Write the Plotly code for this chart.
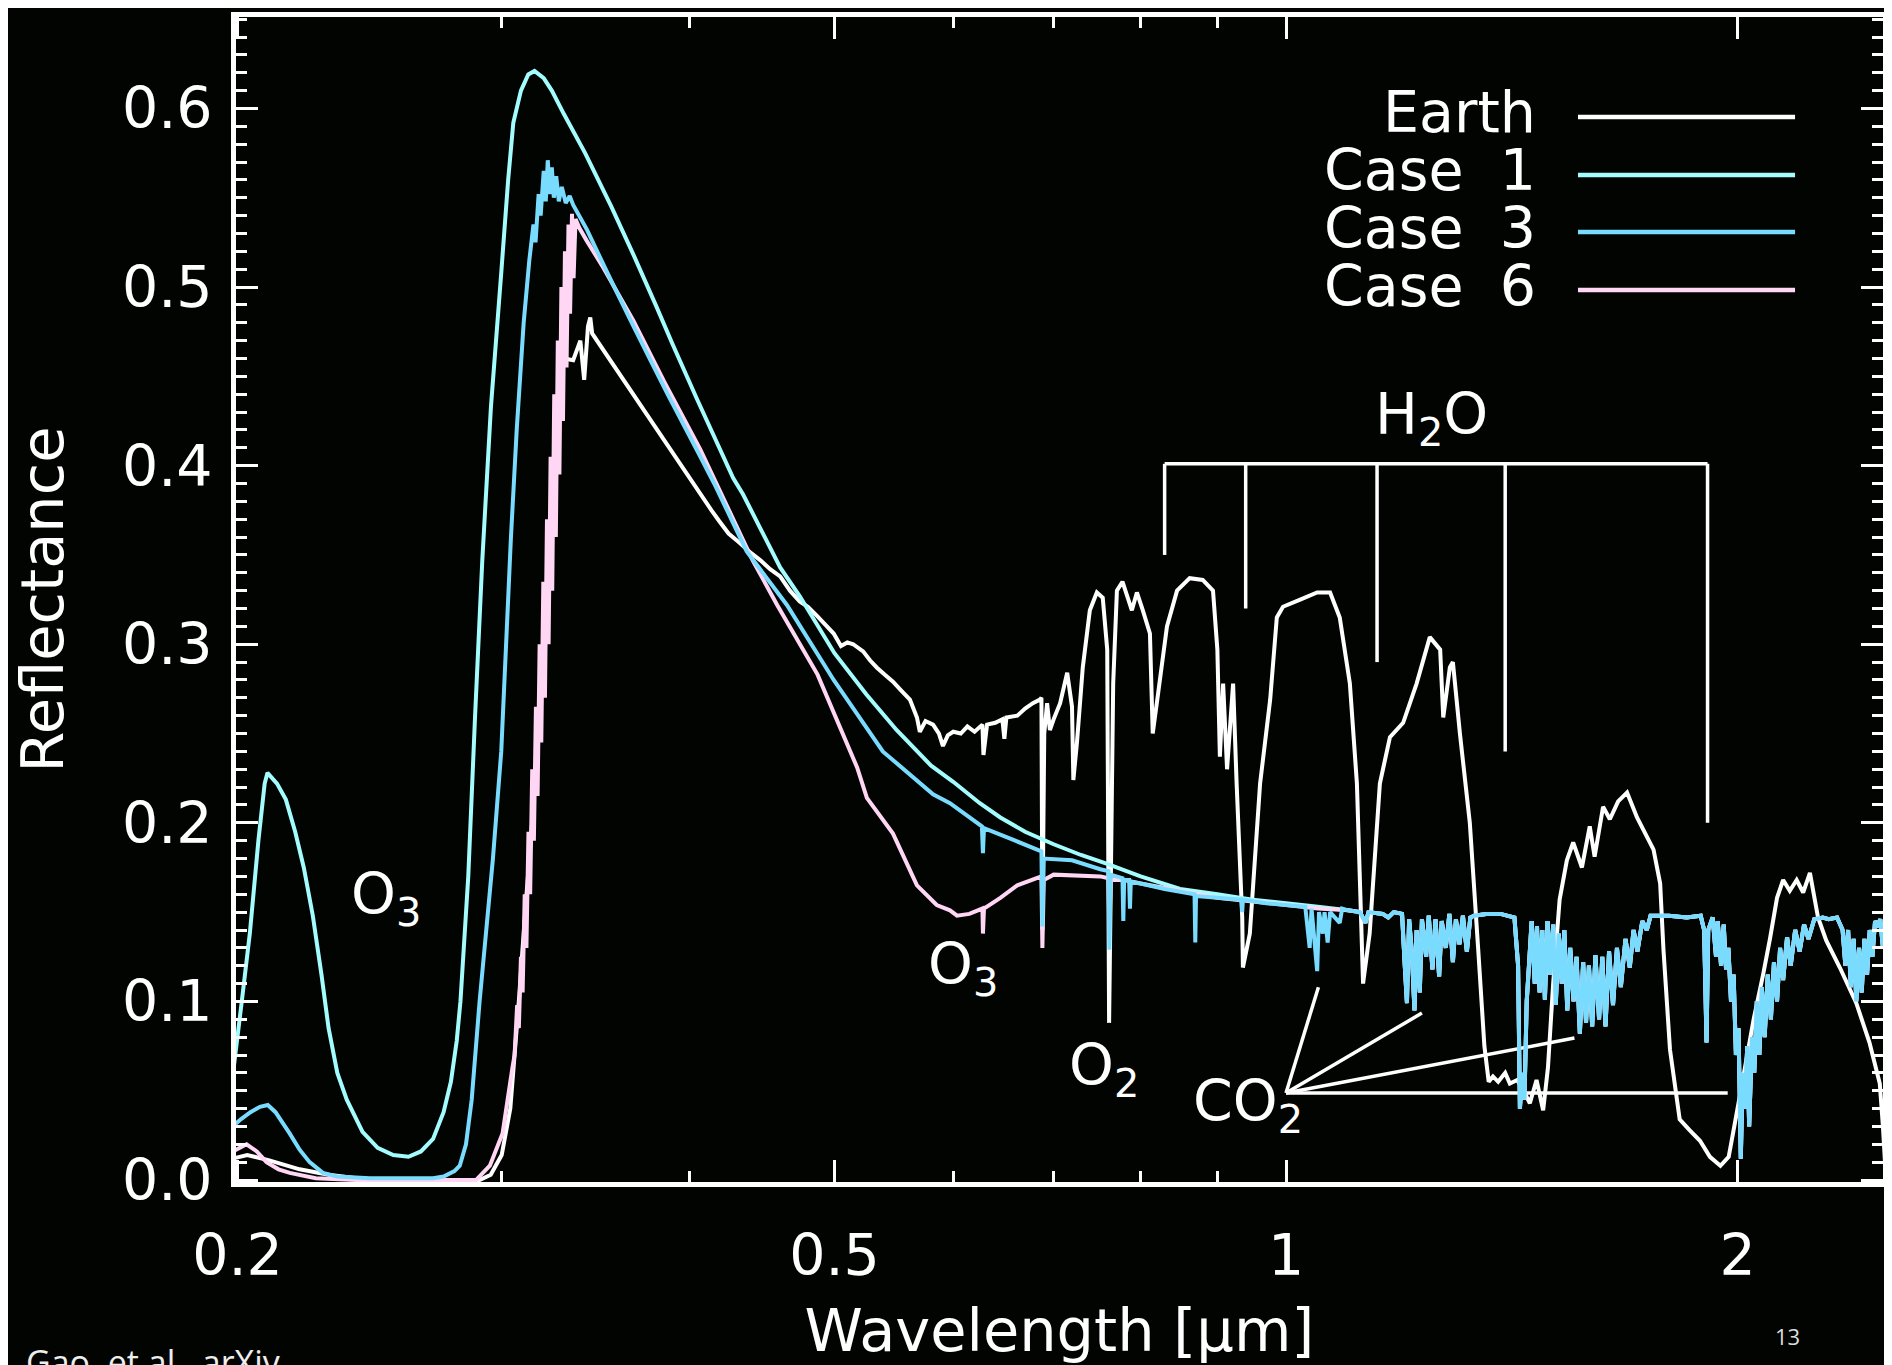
import math
import plotly.graph_objects as go

# ---------------- data ----------------
EARTH_WL = [0.1985, 0.2030, 0.2100, 0.2200, 0.2300, 0.2400, 0.2500, 0.2900, 0.2950, 0.3000,
            0.3040, 0.3080, 0.3110, 0.3150, 0.3200, 0.3250, 0.3300, 0.3348, 0.3385, 0.3405,
            0.3425, 0.3437, 0.3447, 0.4140, 0.4189, 0.4250, 0.4320, 0.4400, 0.4463, 0.4530,
            0.4600, 0.4670, 0.4740, 0.4800, 0.4866, 0.4930, 0.4994, 0.5050, 0.5100, 0.5146,
            0.5225, 0.5280, 0.5335, 0.5400, 0.5470, 0.5540, 0.5614, 0.5675, 0.5700, 0.5750,
            0.5817, 0.5870, 0.5906, 0.5950, 0.6000, 0.6070, 0.6132, 0.6200, 0.6275, 0.6285,
            0.6320, 0.6400, 0.6470, 0.6490, 0.6510, 0.6620, 0.6700, 0.6780, 0.6854, 0.6870,
            0.6880, 0.6900, 0.6930, 0.6960, 0.7000, 0.7070, 0.7147, 0.7200, 0.7215, 0.7255,
            0.7320, 0.7400, 0.7480, 0.7548, 0.7600, 0.7622, 0.7670, 0.7714, 0.7780, 0.7893,
            0.7954, 0.8027, 0.8115, 0.8150, 0.8219, 0.8330, 0.8460, 0.8626, 0.8800, 0.8940,
            0.9000, 0.9035, 0.9080, 0.9135, 0.9220, 0.9270, 0.9350, 0.9360, 0.9460, 0.9610,
            0.9760, 0.9860, 0.9954, 1.0220, 1.0490, 1.0700, 1.0860, 1.1030, 1.1150, 1.1256,
            1.1370, 1.1550, 1.1730, 1.1970, 1.2220, 1.2470, 1.2670, 1.2730, 1.2860, 1.2920,
            1.3060, 1.3260, 1.3430, 1.3560, 1.3650, 1.3740, 1.3850, 1.4000, 1.4100, 1.4260,
            1.4400, 1.4540, 1.4690, 1.4840, 1.4950, 1.5070, 1.5220, 1.5390, 1.5540, 1.5750,
            1.5940, 1.6060, 1.6270, 1.6440, 1.6650, 1.6880, 1.7140, 1.7580, 1.7760, 1.7850,
            1.8030, 1.8300, 1.8580, 1.8880, 1.9170, 1.9480, 1.9730, 1.9900, 2.0200, 2.0500,
            2.0800, 2.1020, 2.1250, 2.1450, 2.1670, 2.1900, 2.2120, 2.2350, 2.2630, 2.2920,
            2.3400, 2.4000, 2.4490, 2.4880, 2.5000, 2.5100]
EARTH_R = [0.012, 0.014, 0.011, 0.006, 0.003, 0.001, 0.000, 0.000, 0.003, 0.014,
           0.040, 0.100, 0.150, 0.210, 0.300, 0.390, 0.460, 0.459, 0.470, 0.448,
           0.478, 0.483, 0.474, 0.375, 0.369, 0.362, 0.357, 0.351, 0.347, 0.342,
           0.338, 0.330, 0.324, 0.321, 0.316, 0.311, 0.306, 0.299, 0.301, 0.300,
           0.296, 0.291, 0.287, 0.283, 0.279, 0.274, 0.269, 0.259, 0.251, 0.257,
           0.255, 0.250, 0.243, 0.249, 0.251, 0.250, 0.254, 0.251, 0.255, 0.238,
           0.255, 0.256, 0.258, 0.247, 0.259, 0.260, 0.264, 0.267, 0.269, 0.270,
           0.140, 0.250, 0.267, 0.252, 0.258, 0.267, 0.284, 0.265, 0.224, 0.245,
           0.287, 0.319, 0.329, 0.326, 0.297, 0.088, 0.278, 0.330, 0.335, 0.319,
           0.329, 0.319, 0.306, 0.250, 0.273, 0.310, 0.330, 0.337, 0.336, 0.330,
           0.297, 0.237, 0.278, 0.230, 0.278, 0.222, 0.147, 0.119, 0.138, 0.222,
           0.269, 0.315, 0.321, 0.325, 0.329, 0.329, 0.315, 0.278, 0.222, 0.110,
           0.138, 0.222, 0.248, 0.256, 0.278, 0.304, 0.297, 0.259, 0.287, 0.290,
           0.250, 0.200, 0.130, 0.075, 0.055, 0.058, 0.055, 0.060, 0.054, 0.056,
           0.050, 0.043, 0.056, 0.039, 0.063, 0.110, 0.157, 0.179, 0.189, 0.175,
           0.198, 0.181, 0.209, 0.202, 0.212, 0.217, 0.203, 0.185, 0.166, 0.129,
           0.073, 0.034, 0.028, 0.022, 0.013, 0.008, 0.013, 0.030, 0.060, 0.090,
           0.115, 0.135, 0.158, 0.168, 0.162, 0.168, 0.161, 0.172, 0.147, 0.134,
           0.119, 0.099, 0.077, 0.054, 0.030, 0.005]

CASE1_WL = [0.1985, 0.2013, 0.2038, 0.2065, 0.2085, 0.2094, 0.2125, 0.2154, 0.2185, 0.2214,
            0.2245, 0.2275, 0.2300, 0.2331, 0.2365, 0.2423, 0.2480, 0.2540, 0.2600, 0.2650,
            0.2700, 0.2744, 0.2775, 0.2800, 0.2816, 0.2850, 0.2880, 0.2912, 0.2951, 0.2998,
            0.3030, 0.3054, 0.3090, 0.3125, 0.3155, 0.3200, 0.3240, 0.3300, 0.3410, 0.3550,
            0.3673, 0.3800, 0.3900, 0.4050, 0.4280, 0.4345, 0.4600, 0.4740, 0.5000, 0.5250,
            0.5500, 0.5800, 0.6000, 0.6250, 0.6450, 0.6700, 0.7000, 0.7300, 0.7600, 0.8000,
            0.8500, 0.9000, 0.9500, 1.0000, 1.0500]
CASE1_R = [0.058, 0.100, 0.138, 0.190, 0.222, 0.228, 0.222, 0.213, 0.195, 0.175,
           0.148, 0.115, 0.085, 0.060, 0.045, 0.027, 0.018, 0.014, 0.013, 0.016,
           0.023, 0.038, 0.055, 0.078, 0.100, 0.170, 0.260, 0.347, 0.433, 0.508,
           0.560, 0.592, 0.610, 0.619, 0.621, 0.617, 0.610, 0.597, 0.575, 0.545,
           0.518, 0.490, 0.468, 0.437, 0.393, 0.384, 0.343, 0.327, 0.295, 0.272,
           0.252, 0.232, 0.223, 0.211, 0.203, 0.195, 0.188, 0.182, 0.177, 0.170,
           0.163, 0.160, 0.157, 0.155, 0.153]

CASE3_WL = [0.1985, 0.2010, 0.2040, 0.2070, 0.2095, 0.2120, 0.2167, 0.2200, 0.2234, 0.2280,
            0.2331, 0.2450, 0.2700, 0.2744, 0.2790, 0.2813, 0.2840, 0.2865, 0.2900, 0.2960,
            0.2998, 0.3043, 0.3070, 0.3103, 0.3130, 0.3150, 0.3160, 0.3175, 0.3185, 0.3200,
            0.3210, 0.3220, 0.3230, 0.3240, 0.3250, 0.3262, 0.3275, 0.3290, 0.3310, 0.3330,
            0.3348, 0.3420, 0.3487, 0.3580, 0.3673, 0.3770, 0.3870, 0.4070, 0.4157, 0.4370,
            0.4648, 0.4994, 0.5385, 0.5817, 0.5970, 0.6270, 0.6280, 0.6290, 0.6600, 0.6870,
            0.6880, 0.6895, 0.7200, 0.7520, 0.7615, 0.7625, 0.7640, 0.7780, 0.7790, 0.7800,
            0.7860, 0.7870, 0.7880, 0.8000, 0.8300, 0.8690, 0.8700, 0.8710, 0.9000, 0.9340,
            0.9350, 0.9360, 0.9700, 1.0000, 1.0300, 1.0370, 1.0400, 1.0490, 1.0520, 1.0580,
            1.0610, 1.0660, 1.0700, 1.0860, 1.0900]
CASE3_R = [0.030, 0.034, 0.038, 0.041, 0.042, 0.038, 0.026, 0.017, 0.010, 0.004,
           0.002, 0.001, 0.001, 0.002, 0.005, 0.008, 0.020, 0.045, 0.100, 0.180,
           0.240, 0.360, 0.420, 0.480, 0.515, 0.535, 0.525, 0.552, 0.540, 0.565,
           0.548, 0.571, 0.552, 0.567, 0.550, 0.562, 0.548, 0.556, 0.547, 0.551,
           0.546, 0.532, 0.517, 0.497, 0.478, 0.459, 0.440, 0.405, 0.390, 0.352,
           0.322, 0.280, 0.240, 0.216, 0.211, 0.198, 0.183, 0.197, 0.190, 0.184,
           0.142, 0.180, 0.179, 0.174, 0.173, 0.129, 0.171, 0.169, 0.145, 0.168,
           0.168, 0.152, 0.167, 0.166, 0.163, 0.160, 0.133, 0.159, 0.158, 0.157,
           0.150, 0.157, 0.155, 0.154, 0.153, 0.130, 0.152, 0.117, 0.150, 0.138,
           0.150, 0.133, 0.150, 0.144, 0.152]

CASE6_WL = [0.1985, 0.2028, 0.2060, 0.2091, 0.2130, 0.2167, 0.2255, 0.2400, 0.2884, 0.2946,
            0.3004, 0.3050, 0.3060, 0.3072, 0.3080, 0.3090, 0.3098, 0.3108, 0.3116, 0.3126,
            0.3134, 0.3144, 0.3152, 0.3162, 0.3170, 0.3180, 0.3188, 0.3198, 0.3206, 0.3216,
            0.3224, 0.3234, 0.3242, 0.3252, 0.3260, 0.3270, 0.3278, 0.3288, 0.3296, 0.3306,
            0.3314, 0.3324, 0.3332, 0.3342, 0.3350, 0.3360, 0.3380, 0.3418, 0.3500, 0.3673,
            0.3850, 0.4070, 0.4410, 0.4579, 0.4872, 0.5177, 0.5255, 0.5470, 0.5675, 0.5850,
            0.5970, 0.6035, 0.6150, 0.6275, 0.6280, 0.6290, 0.6450, 0.6620, 0.6870, 0.6880,
            0.6895, 0.7000, 0.7520, 0.7615, 0.7625, 0.7640, 0.7800, 0.8000, 0.8500, 0.9000,
            0.9500, 1.0000, 1.0500]
CASE6_R = [0.016, 0.020, 0.016, 0.010, 0.006, 0.004, 0.001, 0.000, 0.000, 0.008,
           0.026, 0.063, 0.070, 0.098, 0.085, 0.125, 0.105, 0.160, 0.130, 0.195,
           0.160, 0.230, 0.190, 0.265, 0.215, 0.300, 0.245, 0.335, 0.270, 0.370,
           0.300, 0.405, 0.330, 0.440, 0.360, 0.470, 0.395, 0.500, 0.425, 0.520,
           0.455, 0.535, 0.485, 0.541, 0.505, 0.538, 0.533, 0.526, 0.512, 0.481,
           0.447, 0.409, 0.347, 0.322, 0.283, 0.231, 0.214, 0.194, 0.165, 0.154,
           0.151, 0.148, 0.149, 0.152, 0.138, 0.152, 0.158, 0.165, 0.170, 0.130,
           0.168, 0.171, 0.170, 0.169, 0.140, 0.168, 0.168, 0.166, 0.162, 0.158,
           0.156, 0.154, 0.152]

# near-infrared part where Case 1, Case 3 and Case 6 lie on top of each other
NIR_WL = [1.1000, 1.1200, 1.1300, 1.1350, 1.1600, 1.1700, 1.1800, 1.1950, 1.2000, 1.2040,
          1.2080, 1.2130, 1.2180, 1.2220, 1.2280, 1.2320, 1.2400, 1.2450, 1.2520, 1.2580,
          1.2650, 1.2700, 1.2780, 1.2850, 1.2920, 1.2980, 1.3050, 1.3120, 1.3200, 1.3270,
          1.3350, 1.3600, 1.3900, 1.4200, 1.4280, 1.4320, 1.4370, 1.4420, 1.4470, 1.4520,
          1.4580, 1.4650, 1.4700, 1.4760, 1.4820, 1.4880, 1.4940, 1.5000, 1.5070, 1.5130,
          1.5200, 1.5270, 1.5330, 1.5400, 1.5470, 1.5550, 1.5620, 1.5700, 1.5780, 1.5850,
          1.5920, 1.6000, 1.6080, 1.6170, 1.6250, 1.6330, 1.6420, 1.6520, 1.6620, 1.6720,
          1.6840, 1.6950, 1.7050, 1.7150, 1.7280, 1.7400, 1.7500, 1.8000, 1.8500, 1.8900,
          1.9000, 1.9070, 1.9120, 1.9250, 1.9350, 1.9400, 1.9500, 1.9580, 1.9650, 1.9720,
          1.9800, 1.9880, 1.9950, 2.0030, 2.0100, 2.0160, 2.0220, 2.0300, 2.0360, 2.0450,
          2.0520, 2.0600, 2.0680, 2.0760, 2.0850, 2.0950, 2.1050, 2.1150, 2.1250, 2.1350,
          2.1450, 2.1580, 2.1700, 2.1850, 2.2000, 2.2150, 2.2300, 2.2500, 2.2800, 2.3000,
          2.3300, 2.3500, 2.3600, 2.3700, 2.3800, 2.3900, 2.4000, 2.4100, 2.4200, 2.4300,
          2.4400, 2.4500, 2.4600, 2.4700, 2.4800, 2.4900, 2.5000, 2.5100]
NIR_R = [0.151, 0.150, 0.144, 0.150, 0.149, 0.147, 0.150, 0.149, 0.120, 0.099,
         0.146, 0.128, 0.095, 0.140, 0.105, 0.146, 0.125, 0.148, 0.118, 0.146,
         0.114, 0.145, 0.130, 0.149, 0.122, 0.146, 0.132, 0.148, 0.128, 0.147,
         0.148, 0.149, 0.149, 0.147, 0.120, 0.040, 0.060, 0.045, 0.100, 0.120,
         0.145, 0.110, 0.142, 0.105, 0.140, 0.101, 0.145, 0.115, 0.143, 0.098,
         0.138, 0.110, 0.140, 0.095, 0.130, 0.100, 0.125, 0.082, 0.122, 0.088,
         0.120, 0.086, 0.126, 0.090, 0.125, 0.086, 0.128, 0.098, 0.130, 0.108,
         0.135, 0.119, 0.140, 0.128, 0.145, 0.140, 0.148, 0.148, 0.147, 0.148,
         0.140, 0.077, 0.140, 0.147, 0.125, 0.145, 0.120, 0.143, 0.118, 0.130,
         0.100, 0.115, 0.070, 0.085, 0.012, 0.060, 0.040, 0.075, 0.030, 0.080,
         0.060, 0.100, 0.070, 0.108, 0.080, 0.115, 0.090, 0.122, 0.100, 0.130,
         0.112, 0.136, 0.120, 0.140, 0.128, 0.143, 0.135, 0.146, 0.147, 0.146,
         0.147, 0.140, 0.120, 0.140, 0.108, 0.135, 0.100, 0.130, 0.105, 0.135,
         0.115, 0.140, 0.125, 0.145, 0.143, 0.146, 0.130, 0.140]

SERIES_NAMES = ["Earth", "Case 1", "Case 3", "Case 6"]

X_TICKS = [0.2, 0.5, 1, 2]
X_TICK_TEXT = ["0.2", "0.5", "1", "2"]
X_MINOR_TICKS = [0.3, 0.4, 0.6, 0.7, 0.8, 0.9]
Y_TICKS = [0.0, 0.1, 0.2, 0.3, 0.4, 0.5, 0.6]
Y_TICK_TEXT = ["0.0", "0.1", "0.2", "0.3", "0.4", "0.5", "0.6"]
Y_MINOR_STEP = 0.01

# absorption-band markers
H2O_BANDS = [0.83, 0.94, 1.15, 1.40, 1.91]
H2O_TIPS = [0.350, 0.320, 0.290, 0.240, 0.200]
H2O_BAR = 0.401
CO2_APEX_WL = 1.0
CO2_APEX_R = 0.0487
CO2_BANDS = [1.051, 1.232, 1.557, 1.97]
CO2_TIPS = [0.108, 0.0935, 0.0795, 0.0487]

LABEL_TEXT = ["O<sub>3</sub>", "O<sub>3</sub>", "O<sub>2</sub>", "CO<sub>2</sub>", "H<sub>2</sub>O"]
LABEL_WL = [0.2513, 0.6092, 0.756, 0.9434, 1.251]
LABEL_R = [0.158, 0.1190, 0.0620, 0.0420, 0.4267]

# ---------------- styling ----------------
BG = "#020402"
FG = "#ffffff"
FONT = "DejaVu Sans"
FS = 57
TITLE_FS = 59
COLORS = {"Earth": "#ffffff", "Case 1": "#a3fdff", "Case 3": "#79dcff", "Case 6": "#ffd6f4"}
LW = 4

fig = go.Figure()

# H2O bracket
hx, hy = [H2O_BANDS[0], H2O_BANDS[-1], None], [H2O_BAR, H2O_BAR, None]
for wl, tip in zip(H2O_BANDS, H2O_TIPS):
    hx += [wl, wl, None]
    hy += [H2O_BAR, tip, None]
fig.add_trace(go.Scatter(x=hx, y=hy, mode="lines", line=dict(color=FG, width=3.5),
                         hoverinfo="skip", showlegend=False))
# CO2 pointers
cx, cy = [], []
for wl, tip in zip(CO2_BANDS, CO2_TIPS):
    cx += [CO2_APEX_WL, wl, None]
    cy += [CO2_APEX_R, tip, None]
fig.add_trace(go.Scatter(x=cx, y=cy, mode="lines", line=dict(color=FG, width=3.5),
                         hoverinfo="skip", showlegend=False))

series = {
    "Earth": (EARTH_WL, EARTH_R),
    "Case 1": (CASE1_WL + NIR_WL, CASE1_R + NIR_R),
    "Case 6": (CASE6_WL + NIR_WL, CASE6_R + NIR_R),
    "Case 3": (CASE3_WL + NIR_WL, CASE3_R + NIR_R),
}
for name in ["Earth", "Case 1", "Case 6", "Case 3"]:
    xs, ys = series[name]
    fig.add_trace(go.Scatter(x=xs, y=ys, mode="lines", name=name,
                             line=dict(color=COLORS[name], width=LW, simplify=False),
                             showlegend=False))

# band labels
for txt, wl, r in zip(LABEL_TEXT, LABEL_WL, LABEL_R):
    fig.add_annotation(x=math.log10(wl), y=r, xref="x", yref="y", text=txt, showarrow=False,
                       xanchor="center", yanchor="middle",
                       font=dict(family=FONT, size=FS, color=FG))

# legend (text on the left, line sample on the right)
LEG_TEXT_X = 0.7905
LEG_LINE_X = (0.8148, 0.9466)
LEG_TEXT_Y = [0.9185, 0.8687, 0.8189, 0.7691]
LEG_LINE_Y = [0.9142, 0.8644, 0.8155, 0.7657]
for name, ty, ly in zip(SERIES_NAMES, LEG_TEXT_Y, LEG_LINE_Y):
    label = name.replace(" ", "\u00a0\u00a0")
    fig.add_annotation(x=LEG_TEXT_X, y=ty, xref="paper", yref="paper", text=label,
                       showarrow=False, xanchor="right", yanchor="middle", height=56,
                       font=dict(family=FONT, size=FS, color=FG))
    fig.add_shape(type="line", xref="paper", yref="paper", x0=LEG_LINE_X[0], x1=LEG_LINE_X[1],
                  y0=ly, y1=ly, line=dict(color=COLORS[name], width=4.5))

# slide texts
fig.add_annotation(x=-0.1287, y=-0.133, xref="paper", yref="paper", text="Gao, et al., arXiv",
                   showarrow=False, xanchor="left", yanchor="top",
                   font=dict(family="Open Sans", size=34, color="#eeeeee"))
fig.add_annotation(x=0.9423, y=-0.1322, xref="paper", yref="paper", text="13",
                   showarrow=False, xanchor="center", yanchor="middle",
                   font=dict(family="Open Sans", size=22, color="#dddddd"))

axis_common = dict(showline=True, linecolor=FG, linewidth=5, mirror="allticks",
                   ticks="inside", ticklen=22, tickwidth=3, tickcolor=FG,
                   showgrid=False, zeroline=False,
                   tickfont=dict(family=FONT, size=FS, color=FG))

y_minor = [round(i * Y_MINOR_STEP, 2) for i in range(0, 66) if i % 10 != 0]

fig.update_xaxes(type="log", range=[-0.700, 0.398], tickmode="array",
                 tickvals=X_TICKS, ticktext=X_TICK_TEXT, ticklabelstandoff=20,
                 minor=dict(tickmode="array", tickvals=X_MINOR_TICKS, ticks="inside",
                            ticklen=11, tickwidth=3, tickcolor=FG, showgrid=False),
                 title=dict(text="Wavelength [\u03bcm]", standoff=24,
                            font=dict(family=FONT, size=TITLE_FS, color=FG)),
                 **axis_common)
fig.update_yaxes(range=[-0.0011, 0.6512], tickmode="array",
                 tickvals=Y_TICKS, ticktext=Y_TICK_TEXT, ticklabelstandoff=7,
                 minor=dict(tickmode="array", tickvals=y_minor, ticks="inside",
                            ticklen=11, tickwidth=3, tickcolor=FG, showgrid=False),
                 title=dict(text="Reflectance", standoff=45,
                            font=dict(family=FONT, size=TITLE_FS, color=FG)),
                 **axis_common)

# the page body adds an 8 px offset, so the margins are reduced by that much
fig.update_layout(width=1892, height=1365, autosize=False,
                  margin=dict(l=228, r=17, t=9, b=191, autoexpand=False),
                  paper_bgcolor=BG, plot_bgcolor=BG, showlegend=False)

fig.write_html("out.html")
